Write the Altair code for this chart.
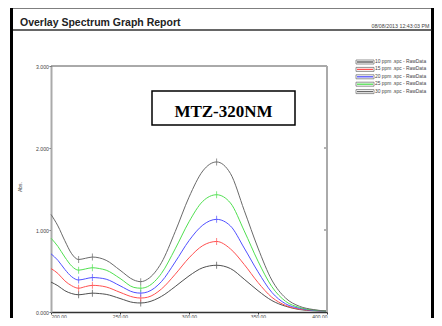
import altair as alt
import pandas as pd

wavelengths = [200, 205, 210, 215, 220, 225, 230, 235, 240, 250, 260, 265, 270,
               280, 290, 300, 310, 320, 330, 340, 350, 360, 370, 380, 390, 400]
series_names = ["10 ppm .spc - RawData", "15 ppm .spc - RawData", "20 ppm .spc - RawData",
                "25 ppm .spc - RawData", "30 ppm .spc - RawData"]
series_colors = ["#505050", "#ff5050", "#5050ff", "#50e050", "#6a6a6a"]
abs_10 = [0.365, 0.32, 0.26, 0.225, 0.21, 0.22, 0.23, 0.225, 0.215, 0.165, 0.115, 0.11, 0.12,
          0.19, 0.31, 0.44, 0.54, 0.57, 0.53, 0.40, 0.26, 0.14, 0.07, 0.03, 0.015, 0.01]
abs_15 = [0.53, 0.47, 0.38, 0.32, 0.29, 0.31, 0.325, 0.32, 0.305, 0.24, 0.18, 0.17, 0.18,
          0.28, 0.46, 0.66, 0.81, 0.86, 0.77, 0.58, 0.36, 0.18, 0.08, 0.035, 0.02, 0.01]
abs_20 = [0.71, 0.63, 0.52, 0.43, 0.39, 0.405, 0.42, 0.415, 0.40, 0.32, 0.24, 0.23, 0.245,
          0.37, 0.61, 0.87, 1.06, 1.13, 1.05, 0.78, 0.49, 0.24, 0.10, 0.045, 0.02, 0.01]
abs_25 = [0.90, 0.80, 0.67, 0.56, 0.51, 0.525, 0.54, 0.53, 0.51, 0.41, 0.30, 0.29, 0.31,
          0.47, 0.77, 1.10, 1.35, 1.43, 1.33, 0.99, 0.62, 0.31, 0.13, 0.055, 0.025, 0.01]
abs_30 = [1.19, 1.05, 0.87, 0.71, 0.64, 0.655, 0.67, 0.66, 0.63, 0.51, 0.39, 0.37, 0.40,
          0.60, 0.98, 1.40, 1.72, 1.83, 1.69, 1.24, 0.78, 0.39, 0.17, 0.07, 0.03, 0.01]
pick_nm = [220, 230, 265, 320]
x_ticks = [200, 250, 300, 350, 400]
y_ticks = [0, 1, 2, 3]
title_text = "Overlay Spectrum Graph Report"
date_text = "08/08/2013  12:43:03 PM"
box_text = "MTZ-320NM"
y_title = "Abs."

all_series = [abs_10, abs_15, abs_20, abs_25, abs_30]
rows = []
for name, vals in zip(series_names, all_series):
    for nm, v in zip(wavelengths, vals):
        rows.append({"nm": nm, "abs": v, "series": name})
df = pd.DataFrame(rows)
picks = df[df["nm"].isin(pick_nm)]

W, H = 276, 246
FONT = "Liberation Sans"

x_enc = alt.X("nm:Q", scale=alt.Scale(domain=[200, 400], nice=False, zero=False),
              axis=alt.Axis(values=x_ticks, format=".2f", title=None, grid=False,
                            domainColor="#333", domainWidth=1.5, tickColor="#333",
                            tickSize=2, labelFontSize=5, labelColor="#444",
                            labelPadding=0, labelFont=FONT))
y_enc = alt.Y("abs:Q", scale=alt.Scale(domain=[0, 3], nice=False, zero=True),
              axis=alt.Axis(values=y_ticks, format=".3f", title=None, grid=False,
                            domainColor="#aaa", domainWidth=2, tickColor="#666",
                            tickSize=2, labelFontSize=5.2, labelColor="#444",
                            labelPadding=0.5, labelFont=FONT))
c_enc = alt.Color("series:N", scale=alt.Scale(domain=series_names, range=series_colors),
                  legend=None)

lines = alt.Chart(df).mark_line(strokeWidth=1, interpolate="monotone").encode(
    x=x_enc, y=y_enc, color=c_enc, order=alt.Order("nm:Q"))
pick_marks = alt.Chart(picks).mark_tick(orient="vertical", size=7, thickness=1).encode(
    x=x_enc, y=y_enc, color=c_enc)
right_ticks = alt.Chart(pd.DataFrame({"abs": [1, 2]})).mark_rule(color="#666", strokeWidth=1).encode(
    y=y_enc, x=alt.value(W - 3), x2=alt.value(W))

one = pd.DataFrame({"a": [0]})
top_frame = alt.Chart(one).mark_rule(color="#555", strokeWidth=1).encode(
    x=alt.value(0), x2=alt.value(W), y=alt.value(0))
right_frame = alt.Chart(one).mark_rule(color="#aaa", strokeWidth=2).encode(
    x=alt.value(W), y=alt.value(0), y2=alt.value(H))

# page frame and header (origin of plot is page (51, 66))
RB = 381.5
border_l = alt.Chart(one).mark_rule(color="#000", strokeWidth=3).encode(
    x=alt.value(-39.5), y=alt.value(-60), y2=alt.value(H + 20))
border_r = alt.Chart(one).mark_rule(color="#000", strokeWidth=3).encode(
    x=alt.value(RB), y=alt.value(-60), y2=alt.value(H + 20))
border_t = alt.Chart(one).mark_rule(color="#000", strokeWidth=3).encode(
    x=alt.value(-41), x2=alt.value(RB + 1.5), y=alt.value(-59))
header_line = alt.Chart(one).mark_rule(color="#333", strokeWidth=1.5).encode(
    x=alt.value(-38), x2=alt.value(RB - 1), y=alt.value(-36))
title = alt.Chart(one).mark_text(align="left", baseline="alphabetic", fontSize=10.5,
                                 fontWeight="bold", font=FONT, color="#222").encode(
    x=alt.value(-31), y=alt.value(-40), text=alt.value(title_text))
date = alt.Chart(one).mark_text(align="right", baseline="alphabetic", fontSize=5.3,
                                font=FONT, color="#444").encode(
    x=alt.value(RB - 3), y=alt.value(-38), text=alt.value(date_text))
ytitle = alt.Chart(one).mark_text(angle=270, align="center", baseline="middle", fontSize=5,
                                  font=FONT, color="#444").encode(
    x=alt.value(-31), y=alt.value(121), text=alt.value(y_title))

box = alt.Chart(one).mark_rect(fill="white", stroke="#000", strokeWidth=1.5).encode(
    x=alt.value(101), x2=alt.value(244), y=alt.value(25), y2=alt.value(59))
box_label = alt.Chart(one).mark_text(align="center", baseline="alphabetic", fontSize=17,
                                     fontWeight="bold", font="Liberation Serif", color="#000").encode(
    x=alt.value(172.5), y=alt.value(51), text=alt.value(box_text))

legend_layers = []
LX = 305
for i, (name, col) in enumerate(zip(series_names, series_colors)):
    ly = -4 + 7.4 * i
    legend_layers.append(alt.Chart(one).mark_rect(fill="white", stroke="#777", strokeWidth=0.8).encode(
        x=alt.value(LX), x2=alt.value(LX + 18), y=alt.value(ly - 2), y2=alt.value(ly + 2)))
    legend_layers.append(alt.Chart(one).mark_rule(color=col, strokeWidth=1.3).encode(
        x=alt.value(LX + 1), x2=alt.value(LX + 17), y=alt.value(ly)))
    legend_layers.append(alt.Chart(one).mark_text(align="left", baseline="middle", fontSize=4.9,
                                                  font=FONT, color="#444").encode(
        x=alt.value(LX + 19), y=alt.value(ly), text=alt.value(name)))

chart = alt.layer(
    lines, pick_marks, right_ticks, top_frame, right_frame,
    border_l, border_r, border_t, header_line, title, date, ytitle,
    box, box_label, *legend_layers
).properties(
    width=W, height=H,
    autosize=alt.AutoSizeParams(type="none"),
    padding={"left": 43, "top": 58, "right": 426 - 43 - W, "bottom": 310 - 58 - H},
    background="white",
).configure_view(strokeWidth=0)

chart.save("out.html", embed_options={"renderer": "svg", "actions": False})
